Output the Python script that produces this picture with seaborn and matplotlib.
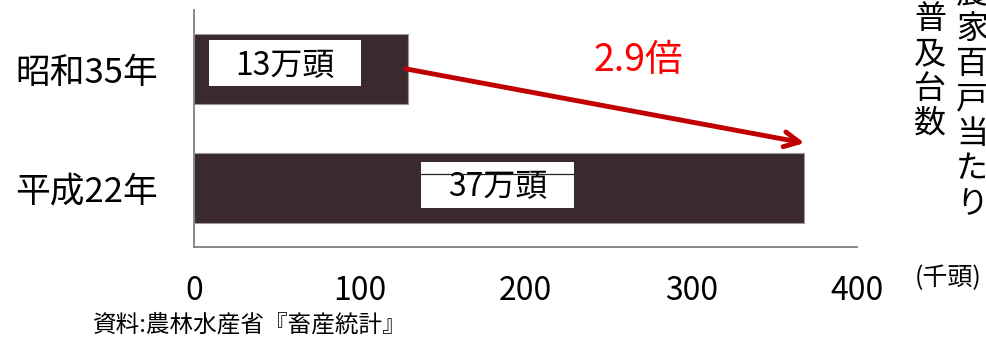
import matplotlib
matplotlib.use("Agg")
import matplotlib.pyplot as plt
from matplotlib.patches import Rectangle
import seaborn as sns
import pandas as pd

# data (thousand head)
years = ["昭和35年", "平成22年"]
heads = [129, 368]
bar_labels = ["13万頭", "37万頭"]
label_x = [55, 183]
x_ticks = [0, 100, 200, 300, 400]
ratio_text = "2.9倍"

sns.set_theme(style="white")
plt.rcParams["font.family"] = ["Noto Sans CJK JP", "DejaVu Sans"]

df = pd.DataFrame({"year": years, "heads": heads})

fig = plt.figure(figsize=(9.87, 3.37), dpi=100)
ax = fig.add_axes([0.1966, 0.267, 0.6717, 0.7033])

sns.barplot(data=df, x="heads", y="year", orient="h", color="#3a2a2d",
            saturation=1, width=0.59, edgecolor="#9a9a9a", linewidth=0.8, ax=ax)

ax.set_xlim(0, 400)
ax.set_ylim(1.5, -0.5)
ax.set_xticks(x_ticks)
ax.set_xlabel("")
ax.set_ylabel("")

sns.despine(ax=ax, top=True, right=True)
for s in ["left", "bottom"]:
    ax.spines[s].set_color("#808080")
    ax.spines[s].set_linewidth(1.3)

ax.tick_params(axis="x", direction="in", length=7, width=1.3, color="#808080",
               pad=20, labelsize=23, labelcolor="black")
ax.tick_params(axis="y", length=0, pad=26, labelsize=25, labelcolor="black")

# value labels in white boxes
offsets = [-0.05, -0.025]
for i, (lab, lx) in enumerate(zip(bar_labels, label_x)):
    yc = i + offsets[i]
    ax.add_patch(Rectangle((lx - 46, yc - 0.195), 92, 0.39, facecolor="white",
                           edgecolor="none", zorder=3))
    ax.text(lx, yc + 0.02, lab, ha="center", va="center", fontsize=23,
            color="black", zorder=4)
# thin stray line on the second label box (as in the original)
ax.plot([label_x[1] - 46, label_x[1] + 46], [1 - 0.12, 1 - 0.12], color="#222222",
        lw=0.9, zorder=5)

# growth arrow
ax.annotate("", xy=(370, 0.627), xytext=(126, -0.008),
            arrowprops=dict(arrowstyle="->,head_length=0.9,head_width=0.45",
                            color="#c00000", lw=3.5))
ax.text(268, -0.07, ratio_text, ha="center", va="center", fontsize=27, color="#ff0000")

# vertical axis title on the right
col1 = "普及台数"
col2 = "農家百戸当たり"
pitch = 35
for k, ch in enumerate(col1):
    fig.text(930 / 987, 1 - (19 + k * pitch) / 337, ch, ha="center", va="center",
             fontsize=23, color="black")
for k, ch in enumerate(col2):
    fig.text(972 / 987, 1 - (-6 + k * pitch) / 337, ch, ha="center", va="center",
             fontsize=23, color="black")

fig.text(948 / 987, 1 - 278 / 337, "(千頭)", ha="center", va="center",
         fontsize=18, color="black")
fig.text(93 / 987, 1 - 325 / 337, "資料:農林水産省『畜産統計』", ha="left", va="center",
         fontsize=17, color="black")

fig.savefig("out.png", dpi=100)
